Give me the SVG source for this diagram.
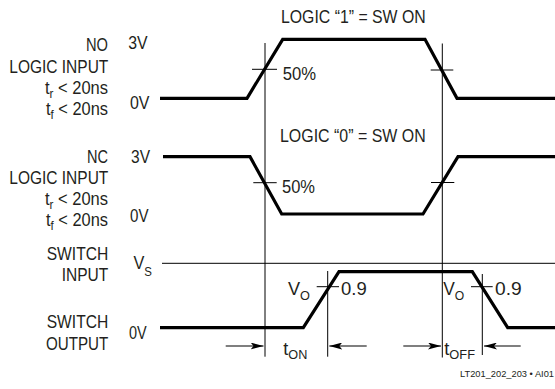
<svg xmlns="http://www.w3.org/2000/svg" width="555" height="389" viewBox="0 0 555 389">
<style>
text{font-family:"Liberation Sans",Arial,sans-serif;font-size:18.5px;fill:#231f20}
.sub{font-size:13px}
.small{font-size:9px}
.wave{fill:none;stroke:#000;stroke-width:3.2;stroke-linejoin:miter}
.thin{fill:none;stroke:#000;stroke-width:1}
.arr{fill:none;stroke:#000;stroke-width:1.2;marker-end:url(#ah)}
</style>
<defs>
<marker id="ah" markerUnits="userSpaceOnUse" markerWidth="13" markerHeight="7" refX="13" refY="3.5" orient="auto">
<path d="M0,0 L13,3.5 L0,7 L3,3.5 z" fill="#000"/>
</marker>
</defs>
<rect width="555" height="389" fill="#fff"/>

<g id="no-logic-input">
<text x="86" y="51" textLength="22" lengthAdjust="spacingAndGlyphs">NO</text>
<text x="9.3" y="72.5" textLength="99" lengthAdjust="spacingAndGlyphs">LOGIC INPUT</text>
<text x="45" y="94" textLength="63" lengthAdjust="spacingAndGlyphs">t<tspan class="sub" dy="4">r</tspan><tspan dy="-4"> &lt; 20ns</tspan></text>
<text x="46" y="115" textLength="62" lengthAdjust="spacingAndGlyphs">t<tspan class="sub" dy="4">f</tspan><tspan dy="-4"> &lt; 20ns</tspan></text>
<text x="128.3" y="49.3" textLength="19.4" lengthAdjust="spacingAndGlyphs">3V</text>
<text x="130" y="108.5" textLength="19.5" lengthAdjust="spacingAndGlyphs">0V</text>
<text x="281" y="23.3" textLength="144.7" lengthAdjust="spacingAndGlyphs">LOGIC “1” = SW ON</text>
<text x="282.7" y="80" textLength="33.3" lengthAdjust="spacingAndGlyphs">50%</text>
<polyline class="wave" points="160,98.3 247,98.3 282.7,39.3 425,39.3 457,98.3 555,98.3"/>
</g>

<g id="nc-logic-input">
<text x="87" y="162.5" textLength="21" lengthAdjust="spacingAndGlyphs">NC</text>
<text x="9.3" y="183.5" textLength="99" lengthAdjust="spacingAndGlyphs">LOGIC INPUT</text>
<text x="45" y="204.5" textLength="63" lengthAdjust="spacingAndGlyphs">t<tspan class="sub" dy="4">r</tspan><tspan dy="-4"> &lt; 20ns</tspan></text>
<text x="46" y="225.5" textLength="62" lengthAdjust="spacingAndGlyphs">t<tspan class="sub" dy="4">f</tspan><tspan dy="-4"> &lt; 20ns</tspan></text>
<text x="131" y="163" textLength="19" lengthAdjust="spacingAndGlyphs">3V</text>
<text x="130" y="221.7" textLength="18.5" lengthAdjust="spacingAndGlyphs">0V</text>
<text x="280" y="141.7" textLength="145.7" lengthAdjust="spacingAndGlyphs">LOGIC “0” = SW ON</text>
<text x="282" y="192.7" textLength="33" lengthAdjust="spacingAndGlyphs">50%</text>
<polyline class="wave" points="163,156.7 250,156.7 281.7,214 423,214 458,156.7 555,156.7"/>
</g>

<g id="switch-input">
<text x="46.7" y="260" textLength="61.6" lengthAdjust="spacingAndGlyphs">SWITCH</text>
<text x="61.7" y="280.7" textLength="46.6" lengthAdjust="spacingAndGlyphs">INPUT</text>
<text x="133.5" y="269" textLength="18.5" lengthAdjust="spacingAndGlyphs">V<tspan class="sub" dy="7">S</tspan></text>
<line class="thin" x1="162" y1="263.3" x2="555" y2="263.3"/>
</g>

<g id="switch-output">
<text x="46.7" y="328.3" textLength="61.6" lengthAdjust="spacingAndGlyphs">SWITCH</text>
<text x="46" y="350" textLength="62.3" lengthAdjust="spacingAndGlyphs">OUTPUT</text>
<text x="129" y="339" textLength="17.7" lengthAdjust="spacingAndGlyphs">0V</text>
<text x="288" y="295" textLength="22" lengthAdjust="spacingAndGlyphs">V<tspan class="sub" dy="5">O</tspan></text>
<text x="341" y="295" textLength="25.7" lengthAdjust="spacingAndGlyphs">0.9</text>
<text x="443.3" y="295" textLength="21" lengthAdjust="spacingAndGlyphs">V<tspan class="sub" dy="5">O</tspan></text>
<text x="495" y="295" textLength="26.7" lengthAdjust="spacingAndGlyphs">0.9</text>
<polyline class="wave" points="160,327.7 303.3,327.7 339,271.7 472.3,271.7 507.7,327.7 555,327.7"/>
</g>

<g id="timing-labels">
<text x="283.3" y="355" textLength="24" lengthAdjust="spacingAndGlyphs">t<tspan class="sub" dy="4">ON</tspan></text>
<text x="444.3" y="355" textLength="30.7" lengthAdjust="spacingAndGlyphs">t<tspan class="sub" dy="4">OFF</tspan></text>
<text class="small" x="460" y="377.3" textLength="94" lengthAdjust="spacingAndGlyphs">LT201_202_203 • AI01</text>
</g>

<g id="connectors">
<line class="thin" x1="265" y1="43" x2="265" y2="356.7"/>
<line class="thin" x1="442.3" y1="43.5" x2="442.3" y2="357.5"/>
<line class="thin" x1="327.7" y1="271" x2="327.7" y2="356.7"/>
<line class="thin" x1="482.3" y1="274" x2="482.3" y2="355"/>
<line class="thin" x1="252" y1="69.3" x2="277" y2="69.3"/>
<line class="thin" x1="430.7" y1="70" x2="453.3" y2="70"/>
<line class="thin" x1="253.3" y1="182.7" x2="276.7" y2="182.7"/>
<line class="thin" x1="431" y1="182.5" x2="454.3" y2="182.5"/>
<line class="thin" x1="316.7" y1="286.7" x2="339" y2="286.7"/>
<line class="thin" x1="471" y1="286.7" x2="492.7" y2="286.7"/>
<line class="arr" x1="225.7" y1="346" x2="263.5" y2="346"/>
<line class="arr" x1="366.7" y1="346" x2="329.3" y2="346"/>
<line class="arr" x1="403.3" y1="346" x2="441" y2="346"/>
<line class="arr" x1="520.7" y1="346" x2="484" y2="346"/>
</g>
</svg>
